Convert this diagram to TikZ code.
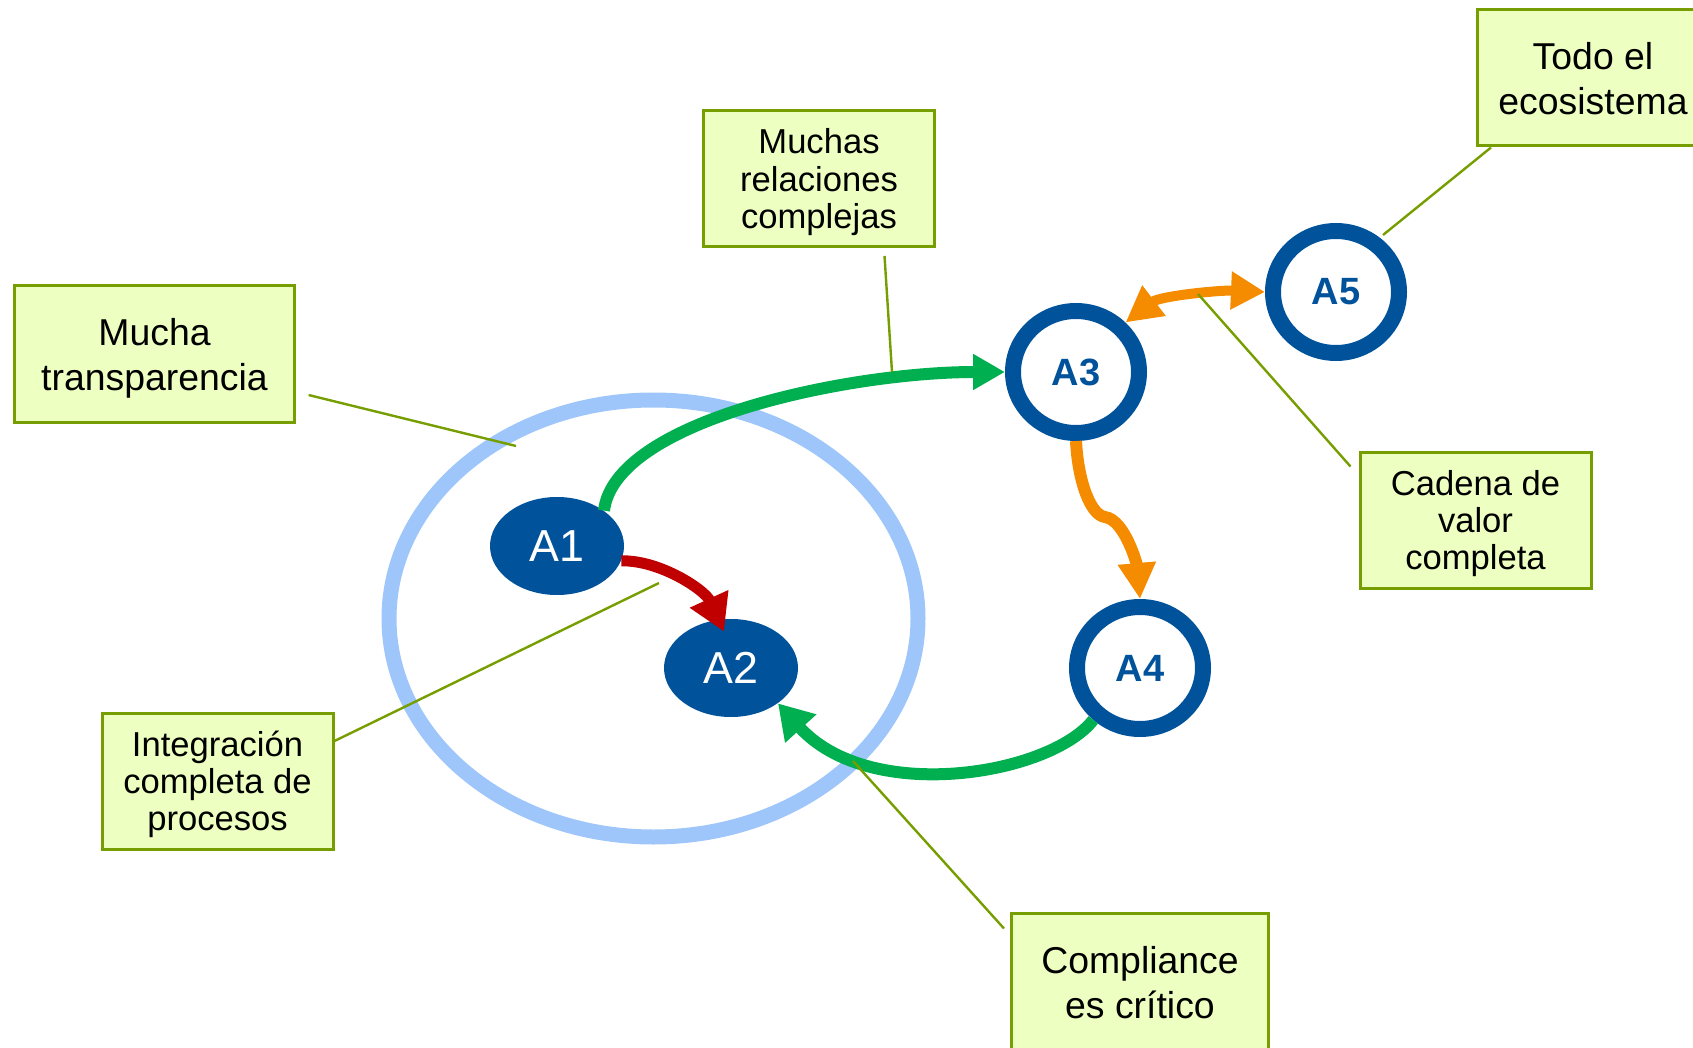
\documentclass[tikz,border=0pt]{standalone}
\usepackage{fontspec}
\setmainfont{Liberation Sans}
\usetikzlibrary{shapes.geometric,arrows.meta}
\definecolor{actorblue}{RGB}{0,82,155}
\definecolor{clusterblue}{RGB}{158,198,250}
\definecolor{flowgreen}{RGB}{0,176,80}
\definecolor{flowred}{RGB}{192,0,0}
\definecolor{floworange}{RGB}{245,140,0}
\definecolor{notefill}{RGB}{238,255,194}
\definecolor{noteline}{RGB}{118,158,0}

\begin{document}
\begin{tikzpicture}[x=0.5pt,y=0.5pt,yscale=-1,xscale=1,
    note/.style={draw=noteline,fill=notefill,line width=1.5pt,align=center,inner sep=0pt,text depth=0pt},
    twoline/.style={note,font=\fontsize{18.7}{22.5}\selectfont},
    threeline/.style={note,font=\fontsize{17.3}{18.6}\selectfont,minimum width=115.5pt,minimum height=68pt},
    actorfill/.style={ellipse,fill=actorblue,text=white,minimum width=67pt,minimum height=49pt,inner sep=0pt,font=\fontsize{22.4}{26}\selectfont},
    actorring/.style={ellipse,draw=actorblue,fill=white,line width=8pt,minimum width=63pt,minimum height=61pt,inner sep=0pt,text=actorblue,font=\bfseries\fontsize{19}{22}\selectfont},
    flow/.style={line width=6pt},
    callout/.style={draw=noteline,line width=1.2pt}]
    \useasboundingbox (0,0) rectangle (1693,1048);

    %Shape: Ellipse
    \node[ellipse,draw=clusterblue,line width=7.5pt,minimum width=264.5pt,minimum height=218.5pt,inner sep=0pt] (cluster) at (653.5,618.5) {};

    % Actors
    \node[actorfill] (A1) at (557,546) {A1};
    \node[actorfill] (A2) at (731,668) {A2};
    \node[actorring] (A3) at (1076,372) {A3};
    \node[actorring] (A4) at (1140,668) {A4};
    \node[actorring] (A5) at (1336,292) {A5};

    %Curve Lines
    \draw[flow,flowgreen,-{Triangle[length=16pt,width=17pt]}] (A1.37) .. controls (615,420) and (850,372) .. (A3.west);
    \draw[flow,line width=5.5pt,flowred,-{Triangle[length=18pt,width=20pt]}] (A1.-13) .. controls (660,560) and (705,590) .. ([shift={(-7,13)}]A2.north);
    \draw[flow,flowgreen,-{Triangle[length=17pt,width=20pt]}] (A4.-132) .. controls (1050,775) and (870,805) .. (A2.-37);
    \draw[flow,floworange,-{Triangle[length=18pt,width=18pt]}] (A3.south) .. controls (1078,480) and (1090,515) .. (1105,517) .. controls (1125,520) and (1137,565) .. (A4.north);
    \draw[flow,line width=5pt,floworange,{Triangle[length=18pt,width=18pt]}-{Triangle[length=17pt,width=18pt]}] (A3.45) .. controls (1160,296) and (1220,290) .. (A5.west);

    % Text Node
    \node[twoline,minimum width=140pt,minimum height=68.5pt] (transp) at (154.5,354) {Mucha\\transparencia};
    % Text Node
    \node[threeline] (relac) at (819,178.5) {Muchas\\relaciones\\complejas};
    % Text Node
    \node[twoline,minimum width=115.5pt,minimum height=68pt] (ecosis) at (1593,78) {Todo el\\ecosistema};
    % Text Node
    \node[threeline] (cadena) at (1475.5,520) {Cadena de\\valor\\completa};
    % Text Node
    \node[threeline] (integ) at (217.5,781) {Integración\\completa de\\procesos};
    % Text Node
    \node[twoline,minimum width=128.5pt,minimum height=69pt] (compl) at (1140,982) {Compliance\\es crítico};

    %Straight Lines
    \coordinate (ptransp) at (516,446);
    \coordinate (prelac) at (892,372);
    \coordinate (pecosis) at (1383,235);
    \coordinate (pcadena) at (1198,294);
    \coordinate (pinteg) at (659,583);
    \coordinate (pcompl) at (853,761);
    \draw[callout,shorten <=6.5pt] (transp.-15) -- (ptransp);
    \draw[callout,shorten <=4pt] ([shift={(65,0)}]relac.south) -- (prelac);
    \draw[callout] ([shift={(15,0)}]ecosis.south west) -- (pecosis);
    \draw[callout] ([shift={(-8,16)}]cadena.north west) -- (pcadena);
    \draw[callout] ([shift={(0,-40)}]integ.east) -- (pinteg);
    \draw[callout] ([shift={(-6,17)}]compl.north west) -- (pcompl);

\end{tikzpicture}
\end{document}
